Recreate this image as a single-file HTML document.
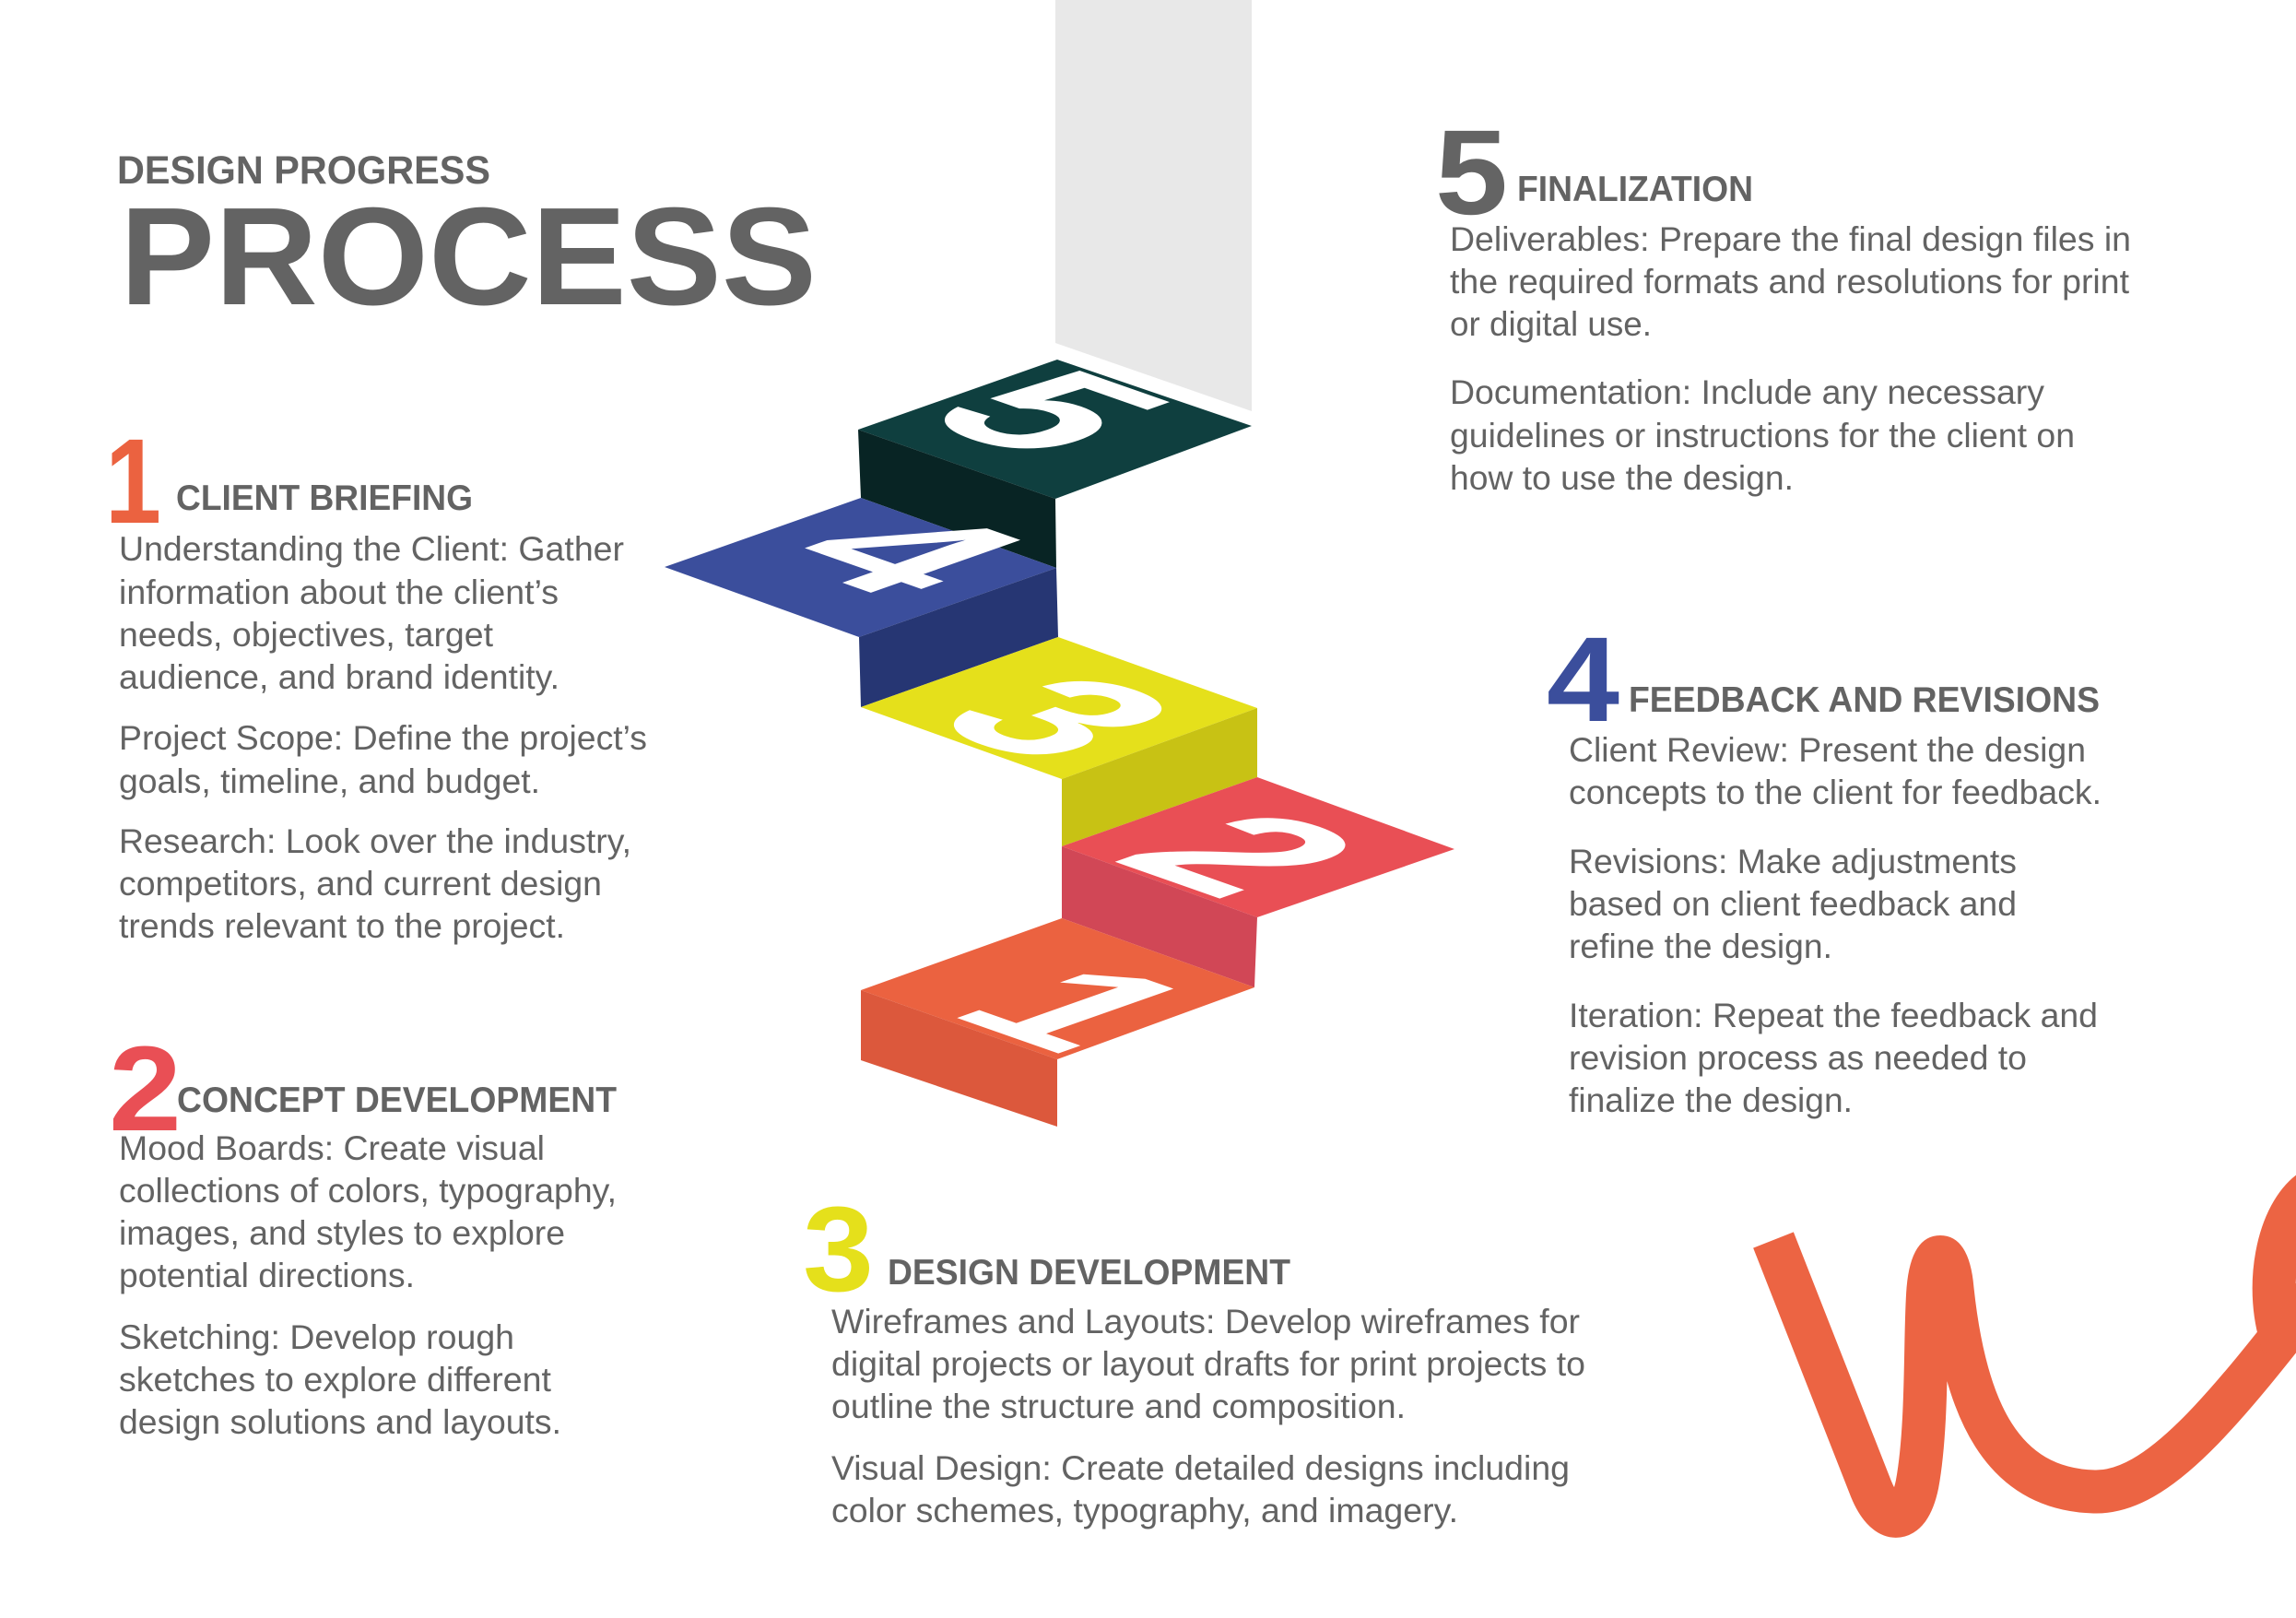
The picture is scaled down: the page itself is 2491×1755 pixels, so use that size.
<!DOCTYPE html>
<html><head><meta charset="utf-8"><style>
html,body{margin:0;padding:0;background:#fff;}
svg{display:block;}
text{font-family:"Liberation Sans",Arial,sans-serif;}
.b{fill:#636363;font-size:37px;}
.h{fill:#636363;font-size:39px;font-weight:bold;}
.n{font-size:131px;font-weight:bold;}
.d{fill:#fff;font-size:250px;font-weight:bold;}
</style></head><body>
<svg width="2491" height="1755" viewBox="0 0 2491 1755" xmlns="http://www.w3.org/2000/svg">
<rect width="2491" height="1755" fill="#fff"/>
<polygon points="1145,0 1358,0 1358,446 1145,372" fill="#e8e8e8"/>
<polygon points="931,466 1147,390 1358,462 1145,541" fill="#0f3f3f"/>
<polygon points="931,466 1145,541 1146,616 934,540" fill="#082424"/>
<polygon points="934,540 1146,616 932,691 721,615" fill="#3b4e9c"/>
<polygon points="1146,616 1148,691 934,767 932,691" fill="#263673"/>
<polygon points="934,767 1148,691 1364,768 1152,845" fill="#e5e01b"/>
<polygon points="1152,845 1364,768 1364,843 1152,918" fill="#c8c214"/>
<polygon points="1152,918 1364,843 1578,921 1364,995" fill="#e94f55"/>
<polygon points="1152,918 1364,995 1361,1071 1152,996" fill="#d14756"/>
<polygon points="1152,996 1361,1071 1147,1149 934,1074" fill="#eb6240"/>
<polygon points="934,1074 1147,1149 1147,1222 934,1150" fill="#dc583c"/>
<g transform="matrix(0.944,0.331,-0.943,0.332,1142,446)"><text class="d" x="0" y="90" text-anchor="middle">5</text></g>
<g transform="matrix(0.944,0.331,-0.943,0.332,987,598)"><text class="d" x="0" y="90" text-anchor="middle">4</text></g>
<g transform="matrix(0.944,0.331,-0.943,0.332,1153,777)"><text class="d" x="0" y="90" text-anchor="middle">3</text></g>
<g transform="matrix(0.944,0.331,-0.943,0.332,1352,925)"><text class="d" x="0" y="90" text-anchor="middle">2</text></g>
<g transform="matrix(0.944,0.331,-0.943,0.332,1174,1092)"><text class="d" x="0" y="90" text-anchor="middle">1</text></g>

<path d="M1924,1345 L2030,1615 C2045,1652 2070,1658 2080,1610 C2092,1545 2088,1445 2092,1398 C2096,1352 2114,1352 2118,1398 C2132,1530 2172,1615 2272,1618 C2345,1620 2420,1520 2530,1380" fill="none" stroke="#ec6443" stroke-width="47" stroke-linejoin="round"/>
<path d="M2510,1290 C2470,1315 2455,1400 2478,1460" fill="none" stroke="#ec6443" stroke-width="47"/>

<text x="127" y="199" fill="#636363" font-size="43" font-weight="bold" textLength="405" lengthAdjust="spacingAndGlyphs">DESIGN PROGRESS</text>
<text x="130" y="330" fill="#636363" font-size="151" font-weight="bold" textLength="756" lengthAdjust="spacingAndGlyphs">PROCESS</text>

<text class="n" x="114" y="567" fill="#eb6240" textLength="61" lengthAdjust="spacingAndGlyphs">1</text>
<text class="h" x="191" y="553" textLength="322" lengthAdjust="spacingAndGlyphs">CLIENT BRIEFING</text>
<text class="b" x="129" y="608" textLength="548" lengthAdjust="spacingAndGlyphs">Understanding the Client: Gather</text>
<text class="b" x="129" y="655" textLength="477" lengthAdjust="spacingAndGlyphs">information about the client’s</text>
<text class="b" x="129" y="701" textLength="406" lengthAdjust="spacingAndGlyphs">needs, objectives, target</text>
<text class="b" x="129" y="747" textLength="478" lengthAdjust="spacingAndGlyphs">audience, and brand identity.</text>
<text class="b" x="129" y="813" textLength="573" lengthAdjust="spacingAndGlyphs">Project Scope: Define the project’s</text>
<text class="b" x="129" y="860" textLength="457" lengthAdjust="spacingAndGlyphs">goals, timeline, and budget.</text>
<text class="b" x="129" y="925" textLength="556" lengthAdjust="spacingAndGlyphs">Research: Look over the industry,</text>
<text class="b" x="129" y="971" textLength="524" lengthAdjust="spacingAndGlyphs">competitors, and current design</text>
<text class="b" x="129" y="1017" textLength="484" lengthAdjust="spacingAndGlyphs">trends relevant to the project.</text>

<text class="n" x="118" y="1226" fill="#e94f55" font-size="133" textLength="79" lengthAdjust="spacingAndGlyphs">2</text>
<text class="h" x="192" y="1206" textLength="477" lengthAdjust="spacingAndGlyphs">CONCEPT DEVELOPMENT</text>
<text class="b" x="129" y="1258" textLength="462" lengthAdjust="spacingAndGlyphs">Mood Boards: Create visual</text>
<text class="b" x="129" y="1304" textLength="540" lengthAdjust="spacingAndGlyphs">collections of colors, typography,</text>
<text class="b" x="129" y="1350" textLength="484" lengthAdjust="spacingAndGlyphs">images, and styles to explore</text>
<text class="b" x="129" y="1396" textLength="321" lengthAdjust="spacingAndGlyphs">potential directions.</text>
<text class="b" x="129" y="1463" textLength="429" lengthAdjust="spacingAndGlyphs">Sketching: Develop rough</text>
<text class="b" x="129" y="1509" textLength="469" lengthAdjust="spacingAndGlyphs">sketches to explore different</text>
<text class="b" x="129" y="1555" textLength="480" lengthAdjust="spacingAndGlyphs">design solutions and layouts.</text>

<text class="n" x="871" y="1400" fill="#e5e01b" textLength="77" lengthAdjust="spacingAndGlyphs">3</text>
<text class="h" x="963" y="1393" textLength="437" lengthAdjust="spacingAndGlyphs">DESIGN DEVELOPMENT</text>
<text class="b" x="902" y="1446" textLength="812" lengthAdjust="spacingAndGlyphs">Wireframes and Layouts: Develop wireframes for</text>
<text class="b" x="902" y="1492" textLength="818" lengthAdjust="spacingAndGlyphs">digital projects or layout drafts for print projects to</text>
<text class="b" x="902" y="1538" textLength="623" lengthAdjust="spacingAndGlyphs">outline the structure and composition.</text>
<text class="b" x="902" y="1605" textLength="801" lengthAdjust="spacingAndGlyphs">Visual Design: Create detailed designs including</text>
<text class="b" x="902" y="1651" textLength="680" lengthAdjust="spacingAndGlyphs">color schemes, typography, and imagery.</text>

<text class="n" x="1678" y="782" fill="#3b4e9c" font-size="130" textLength="79" lengthAdjust="spacingAndGlyphs">4</text>
<text class="h" x="1767" y="772" textLength="511" lengthAdjust="spacingAndGlyphs">FEEDBACK AND REVISIONS</text>
<text class="b" x="1702" y="826" textLength="561" lengthAdjust="spacingAndGlyphs">Client Review: Present the design</text>
<text class="b" x="1702" y="872" textLength="578" lengthAdjust="spacingAndGlyphs">concepts to the client for feedback.</text>
<text class="b" x="1702" y="947" textLength="486" lengthAdjust="spacingAndGlyphs">Revisions: Make adjustments</text>
<text class="b" x="1702" y="993" textLength="486" lengthAdjust="spacingAndGlyphs">based on client feedback and</text>
<text class="b" x="1702" y="1039" textLength="286" lengthAdjust="spacingAndGlyphs">refine the design.</text>
<text class="b" x="1702" y="1114" textLength="574" lengthAdjust="spacingAndGlyphs">Iteration: Repeat the feedback and</text>
<text class="b" x="1702" y="1160" textLength="497" lengthAdjust="spacingAndGlyphs">revision process as needed to</text>
<text class="b" x="1702" y="1206" textLength="308" lengthAdjust="spacingAndGlyphs">finalize the design.</text>

<text class="n" x="1557" y="232" fill="#646464" font-size="129" textLength="79" lengthAdjust="spacingAndGlyphs">5</text>
<text class="h" x="1646" y="218" textLength="256" lengthAdjust="spacingAndGlyphs">FINALIZATION</text>
<text class="b" x="1573" y="272" textLength="739" lengthAdjust="spacingAndGlyphs">Deliverables: Prepare the final design files in</text>
<text class="b" x="1573" y="318" textLength="737" lengthAdjust="spacingAndGlyphs">the required formats and resolutions for print</text>
<text class="b" x="1573" y="364" textLength="219" lengthAdjust="spacingAndGlyphs">or digital use.</text>
<text class="b" x="1573" y="438" textLength="645" lengthAdjust="spacingAndGlyphs">Documentation: Include any necessary</text>
<text class="b" x="1573" y="485" textLength="678" lengthAdjust="spacingAndGlyphs">guidelines or instructions for the client on</text>
<text class="b" x="1573" y="531" textLength="373" lengthAdjust="spacingAndGlyphs">how to use the design.</text>
</svg>
</body></html>
